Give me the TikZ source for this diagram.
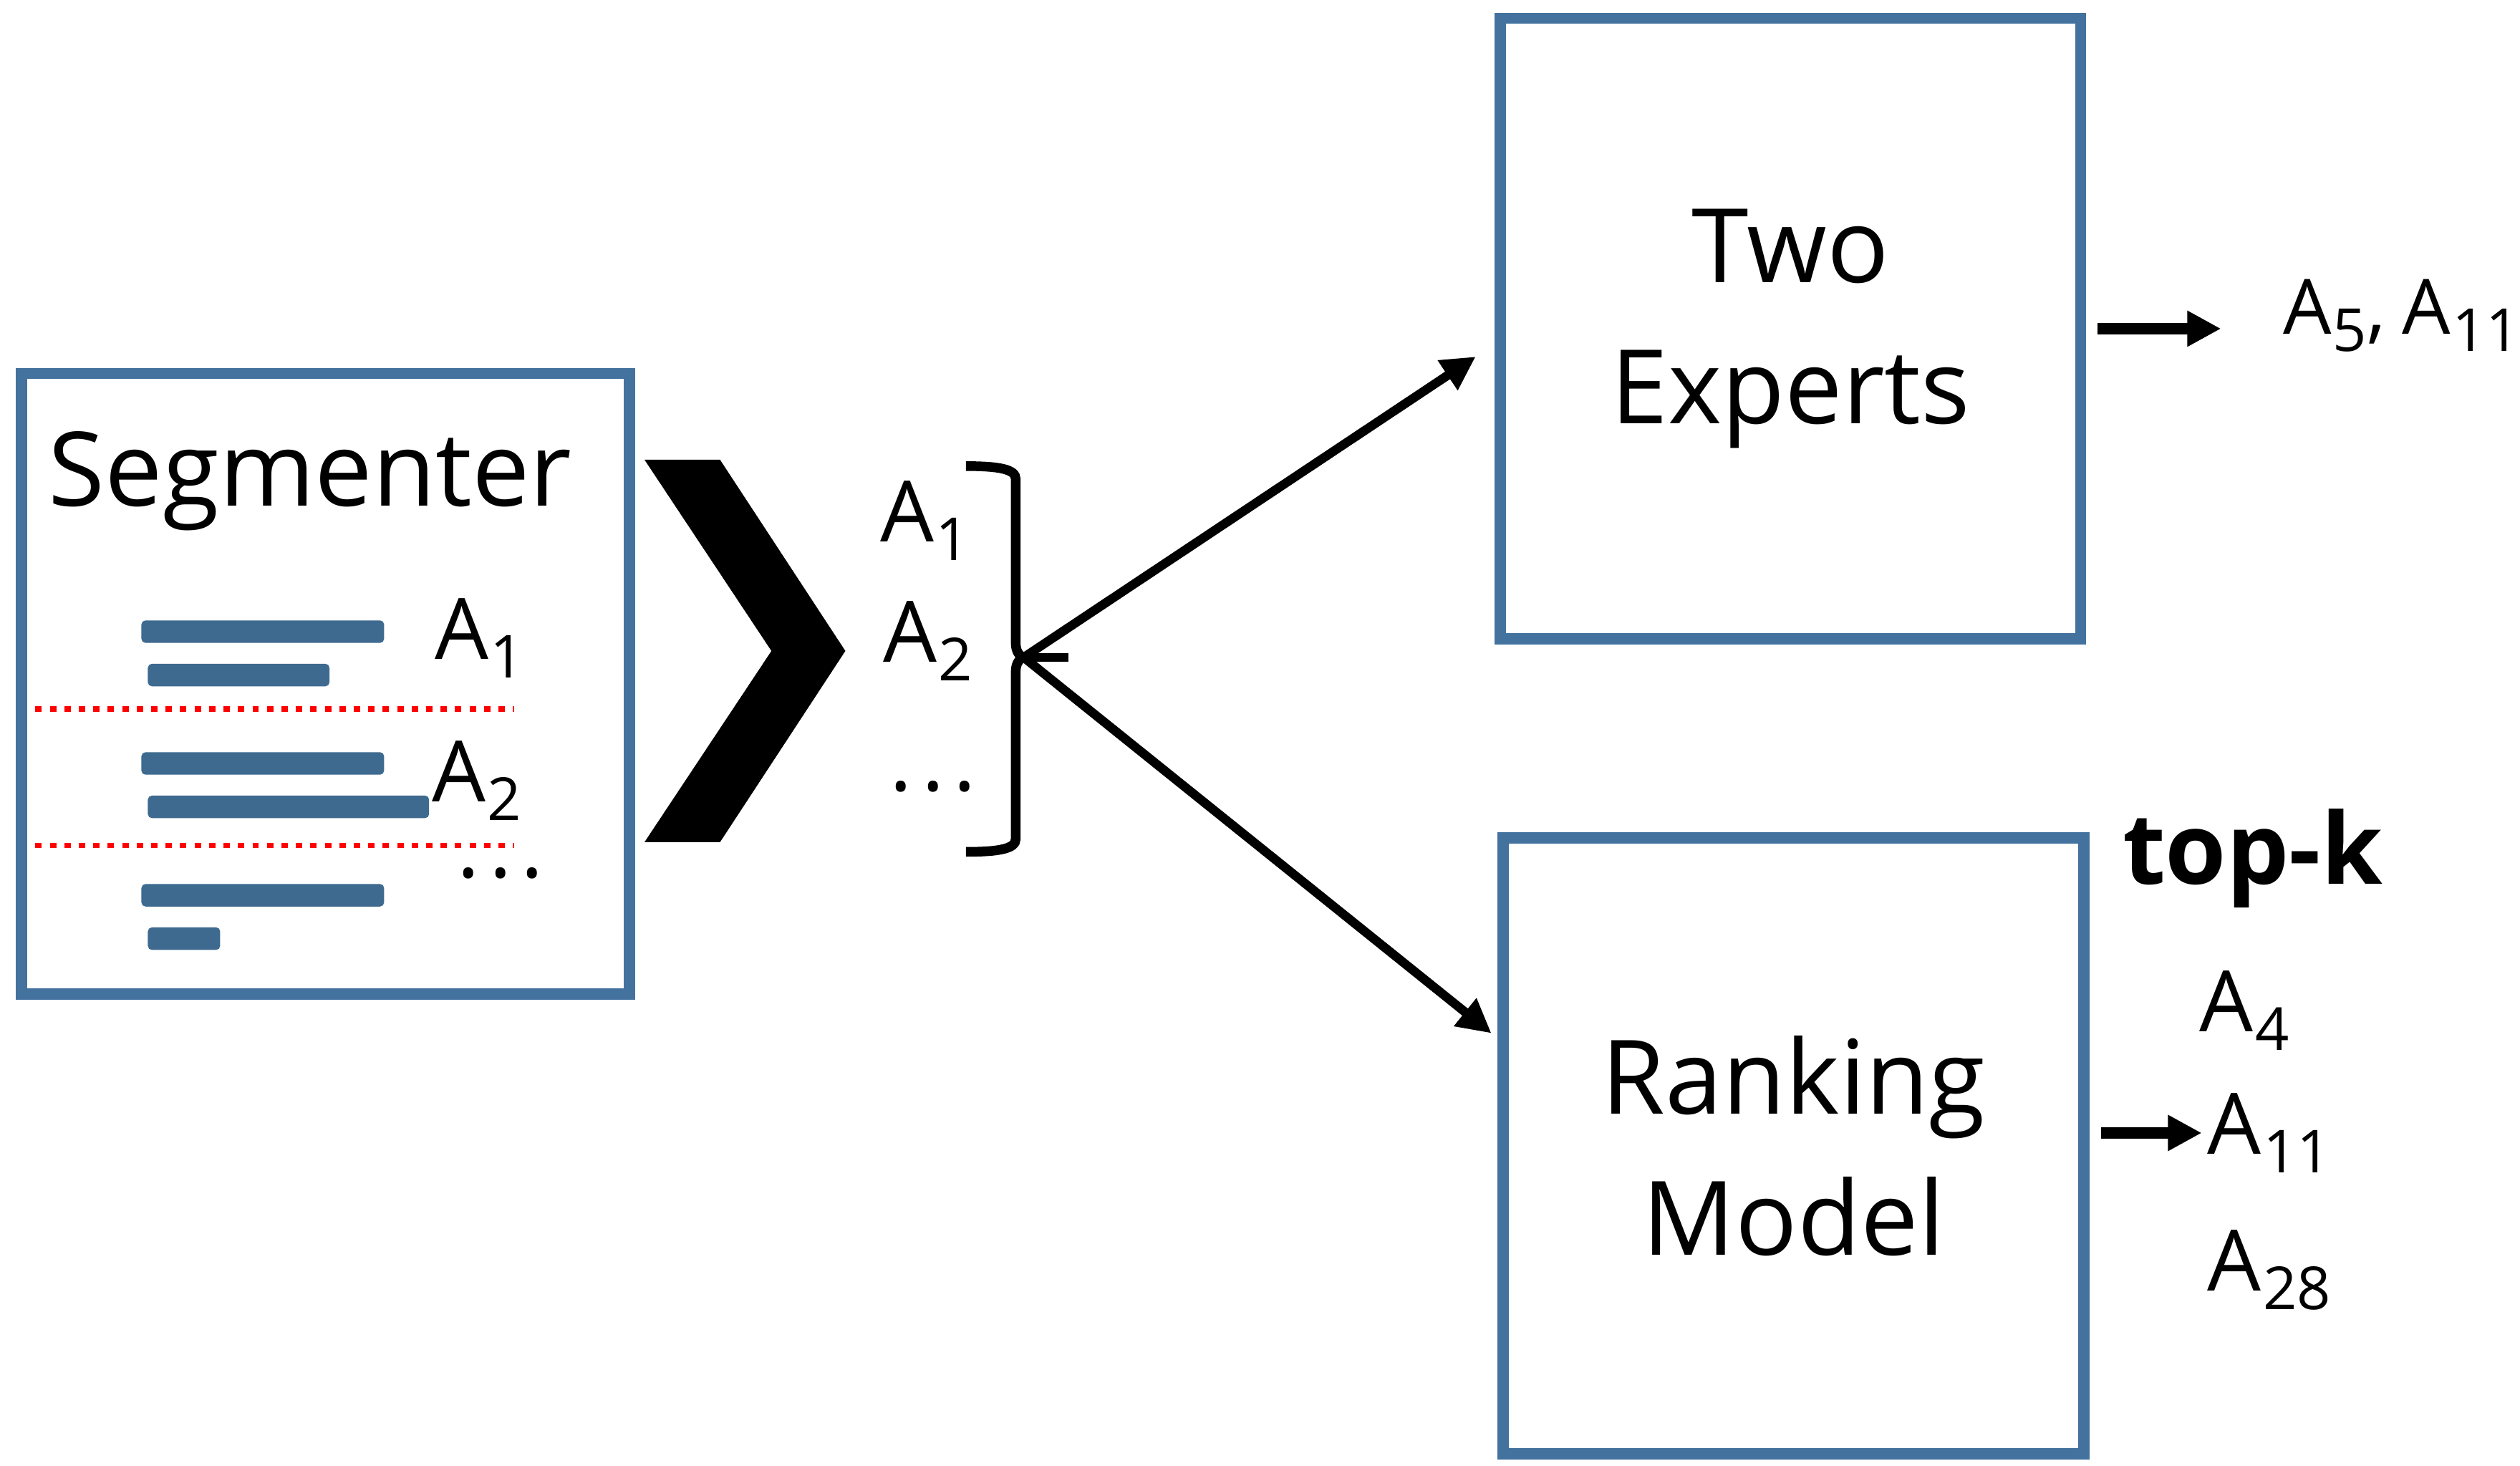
\documentclass[tikz,border=0pt]{standalone}
\usepackage{fontspec}
\setmainfont{Open Sans}
\usetikzlibrary{arrows.meta}

\definecolor{boxblue}{RGB}{68,114,158}
\definecolor{barblue}{RGB}{62,106,143}

\newcommand{\namefont}{\fontsize{18.2}{25}\selectfont}
\newcommand{\labelfont}{\fontsize{15}{18}\selectfont}
\newcommand{\asub}[1]{A\kern0.02em\raisebox{-0.22em}{\fontsize{10.5}{12}\selectfont #1}}
\newcommand{\segdots}{.\kern0.11em.\kern0.11em.}

\tikzset{
    module/.style={draw=boxblue, line width=0.07cm, minimum width=3.61cm,
        minimum height=3.86cm, align=center, font=\namefont},
    seglabel/.style={anchor=base west, inner sep=0pt, font=\labelfont},
    textbar/.style={fill=barblue, rounded corners=0.025cm},
    cut/.style={red, line width=0.035cm, dash pattern=on 0.04cm off 0.05cm},
    arr/.style={-{Triangle[length=0.21cm,width=0.21cm]}, line width=0.056cm},
}

\begin{document}
\begin{tikzpicture}[x=0.01cm, y=-0.01cm]
    \useasboundingbox (0,0) rectangle (1568,912);

    \node[module, minimum width=3.78cm] (seg) at (202.5,425.5) {};
    \node[anchor=base, font=\namefont] (segname) at (193,315) {Segmenter};
    \foreach \xa/\xb/\y in {88/239/386, 92/205/413, 88/239/468,
        92/267/495, 88/239/550, 92/137/577}
        \fill[textbar] (\xa,\y) rectangle (\xb,\y+14);
    \foreach \y in {441,526}
        \draw[cut] (22,\y) -- (320,\y);
    \node[seglabel] (sa1) at (270,410) {\asub{1}};
    \node[seglabel] (sa2) at (268,499) {\asub{2}};
    \node[seglabel] (sdots) at (284,546) {\segdots};

    \fill (401,286) -- (448,286) -- (526,405) -- (448,524) -- (401,524)
        -- (480,405) -- cycle;

    \node[seglabel] (ma1) at (547,337) {\asub{1}};
    \node[seglabel] (ma2) at (549,412) {\asub{2}};
    \node[seglabel] (mdots) at (553,492) {\segdots};

    \coordinate (fork) at (637,409);
    \draw[line width=0.06cm] (601,290) .. controls (622,290) and (632,292)
        .. (632,298) -- (632,400) .. controls (632,405) and (634,408)
        .. (fork) .. controls (634,410) and (632,413) .. (632,418)
        -- (632,522) .. controls (632,528) and (622,530) .. (601,530);
    \draw[line width=0.055cm] (fork) -- (665,409);

    \node[module] (exp) at (1114,204.5) {Two\\Experts};
    \node[module, minimum height=3.83cm] (rank) at (1116,713) {Ranking\\Model};

    \draw[arr, shorten >=0.14cm] (fork) -- (exp.183.6);
    \draw[arr, shorten >=0.05cm] (fork) -- (rank.160);

    \node[seglabel, font=\fontsize{13.5}{17}\selectfont] (res) at (1420,208)
        {\asub{5},\kern0.22em\asub{11}};
    \node[seglabel, font=\fontsize{17.5}{20}\selectfont\bfseries] (topk)
        at (1320,550) {top-k};
    \node[seglabel] (r4) at (1368,642) {\asub{4}};
    \node[seglabel] (r11) at (1373,718) {\asub{11}};
    \node[seglabel] (r28) at (1373,803) {\asub{28}};

    \draw[arr, line width=0.07cm, shorten <=0.07cm, shorten >=0.38cm]
        (exp.east) -- (exp.east -| res.west);
    \draw[arr, line width=0.07cm, shorten <=0.07cm, shorten >=0.03cm]
        (rank.east |- r11.west) -- (r11.west);
\end{tikzpicture}
\end{document}
